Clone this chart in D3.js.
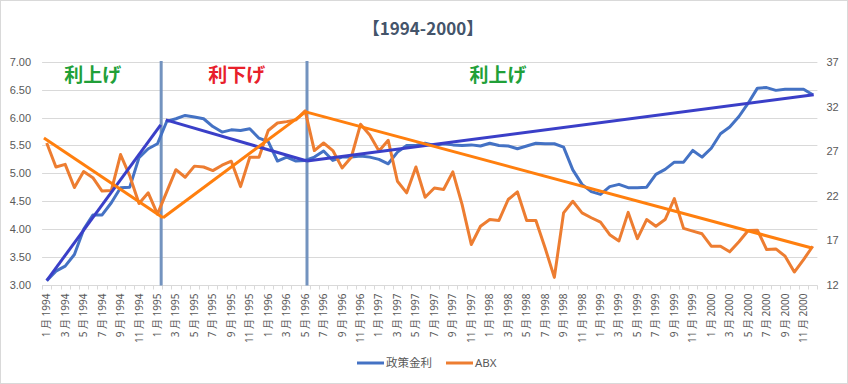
<!DOCTYPE html>
<meta charset="utf-8">
<style>
body { margin: 0; background: #fff; }
svg { font-family: "Noto Sans", "Noto Sans CJK JP", sans-serif; }
.grid line { stroke: #d9d9d9; stroke-width: 1px; }
.axis text { fill: #595959; font-size: 11px; }
.xlab { fill: #595959; font-size: 10px; }
.series { fill: none; stroke-width: 3px; stroke-linejoin: round; }
.trend { fill: none; stroke-width: 3px; }
.cjk { font-family: "Noto Sans CJK JP", sans-serif; }
</style>
<body>
<script src="https://d3js.org/d3.v7.min.js"></script>
<script>

// chart values
var years = [1994, 1995, 1996, 1997, 1998, 1999, 2000];

var policyRate = [
  3.07, 3.24, 3.33, 3.54, 3.99, 4.25, 4.25, 4.47, 4.74, 4.75, 5.28, 5.44,
  5.53, 5.93, 5.98, 6.04, 6.01, 5.98, 5.84, 5.74, 5.78, 5.77, 5.80, 5.63,
  5.57, 5.22, 5.29, 5.22, 5.23, 5.29, 5.40, 5.23, 5.29, 5.29, 5.31, 5.29,
  5.25, 5.17, 5.38, 5.50, 5.50, 5.54, 5.50, 5.53, 5.51, 5.50, 5.51, 5.49,
  5.54, 5.50, 5.49, 5.44, 5.49, 5.54, 5.53, 5.53, 5.47, 5.06, 4.80, 4.67,
  4.62, 4.76, 4.80, 4.74, 4.74, 4.75, 4.98, 5.07, 5.20, 5.20, 5.41, 5.29,
  5.45, 5.71, 5.83, 6.02, 6.26, 6.53, 6.54, 6.49, 6.51, 6.51, 6.51, 6.41
];

var abx = [
  27.9, 25.2, 25.5, 22.9, 24.7, 24.0, 22.5, 22.55, 26.6, 24.2, 21.1, 22.3,
  19.9, 22.4, 24.9, 24.05, 25.3, 25.2, 24.8, 25.4, 25.85, 23.0, 26.3, 26.3,
  29.3, 30.15, 30.3, 30.5, 31.5, 27.05, 27.9, 27.05, 25.1, 26.3, 30.0, 28.8,
  27.0, 28.2, 23.6, 22.3, 25.2, 21.8, 22.85, 22.67, 24.65, 21.0, 16.5, 18.55,
  19.3, 19.2, 21.55, 22.4, 19.2, 19.2, 16.1, 12.8, 20.05, 21.35, 20.05, 19.5,
  19.0, 17.6, 16.9, 20.1, 17.15, 19.3, 18.55, 19.3, 21.65, 18.3, 18.0, 17.7,
  16.3, 16.3, 15.67, 16.8, 18.06, 18.1, 15.93, 16.0, 15.18, 13.4, 14.8, 16.3
];

// hand drawn trend lines, [category index, value]
var policyTrend = [
  [[0, 3.07], [12.35, 5.87]],
  [[12.9, 5.96], [28.2, 5.22]],
  [[28.2, 5.22], [83.1, 6.41]]
];
var abxTrend = [
  [[-0.3, 28.47], [12.6, 19.5]],
  [[12.6, 19.5], [28.06, 31.4]],
  [[28.06, 31.4], [82.9, 16.1]]
];
var phaseLines = [12.4, 28.2];
var phaseLabels = [
  {text: "利上げ", at: 5.0, color: "#21a038"},
  {text: "利下げ", at: 20.6, color: "#e8202a"},
  {text: "利上げ", at: 48.9, color: "#21a038"}
];

var leftTicks = [3, 3.5, 4, 4.5, 5, 5.5, 6, 6.5, 7];
var rightTicks = [12, 17, 22, 27, 32, 37];

var categories = [];
years.forEach(function(y) {
  for (var m = 1; m <= 12; m++) categories.push(m + " 月 " + y);
});

var width = 848, height = 384;
var plot = {left: 42.1, right: 817.4, top: 62, bottom: 284.5};

var svg = d3.select("body").append("svg")
    .attr("width", width)
    .attr("height", height);

svg.append("rect")
    .attr("x", 0.5).attr("y", 0.5)
    .attr("width", width - 1).attr("height", height - 1)
    .attr("fill", "#fff").attr("stroke", "#d9d9d9");

var xBand = d3.scaleBand()
    .domain(d3.range(categories.length))
    .range([plot.left, plot.right]);
var bw = xBand.bandwidth();
// index -> centre of category (allows fractional index)
var x = d3.scaleLinear()
    .domain([0, categories.length - 1])
    .range([plot.left + bw / 2, plot.right - bw / 2]);

var y0 = d3.scaleLinear().domain([3, 7]).range([plot.bottom, plot.top]);
var y1 = d3.scaleLinear().domain([12, 37]).range([plot.bottom, plot.top]);

// gridlines
svg.append("g").attr("class", "grid")
  .selectAll("line").data(leftTicks).enter().append("line")
    .attr("x1", plot.left).attr("x2", plot.right)
    .attr("y1", function(d) { return Math.round(y0(d)) + 0.5; })
    .attr("y2", function(d) { return Math.round(y0(d)) + 0.5; });

// left axis
var yAxisL = svg.append("g").attr("class", "axis")
    .attr("transform", "translate(" + (plot.left - 8) + ",0)")
    .call(d3.axisLeft(y0).tickValues(leftTicks).tickFormat(d3.format(".2f")).tickSize(0));
yAxisL.select(".domain").remove();

// right axis
var yAxisR = svg.append("g").attr("class", "axis")
    .attr("transform", "translate(" + (plot.right + 6) + ",0)")
    .call(d3.axisRight(y1).tickValues(rightTicks).tickSize(0));
yAxisR.select(".domain").remove();

// x axis: ticks at every category boundary, label every 2nd month
var xg = svg.append("g")
    .attr("transform", "translate(0," + (Math.round(plot.bottom) + 0.5) + ")");
xg.append("line")
    .attr("x1", plot.left).attr("x2", plot.right)
    .attr("stroke", "#d9d9d9");
xg.selectAll(".tk").data(d3.range(categories.length + 1)).enter().append("line")
    .attr("class", "tk")
    .attr("x1", function(i) { return Math.round(plot.left + i * bw) + 0.5; })
    .attr("x2", function(i) { return Math.round(plot.left + i * bw) + 0.5; })
    .attr("y1", 0).attr("y2", 4)
    .attr("stroke", "#d9d9d9");
xg.selectAll(".xlab").data(categories.filter(function(d, i) { return i % 2 == 0; }))
  .enter().append("text")
    .attr("class", "xlab")
    .attr("text-anchor", "end")
    .attr("dy", "0.35em")
    .style("white-space", "pre")
    .attr("transform", function(d, i) {
      return "translate(" + x(i * 2) + ",8)rotate(-90)";
    })
    .text(function(d) { return d; });

// phase separators
svg.selectAll(".phase").data(phaseLines).enter().append("line")
    .attr("x1", function(d) { return x(d); })
    .attr("x2", function(d) { return x(d); })
    .attr("y1", plot.top - 1).attr("y2", plot.bottom + 1)
    .attr("stroke", "#7393bf").attr("stroke-width", 3);

// data lines
var line0 = d3.line().x(function(d, i) { return x(i); }).y(function(d) { return y0(d); });
var line1 = d3.line().x(function(d, i) { return x(i); }).y(function(d) { return y1(d); });

svg.append("path").datum(policyRate)
    .attr("class", "series").attr("stroke", "#4472c4").attr("d", line0);
svg.append("path").datum(abx)
    .attr("class", "series").attr("stroke", "#ed7d31").attr("d", line1);

// trend lines
var tl0 = d3.line().x(function(d) { return x(d[0]); }).y(function(d) { return y0(d[1]); });
var tl1 = d3.line().x(function(d) { return x(d[0]); }).y(function(d) { return y1(d[1]); });
svg.selectAll(".t0").data(policyTrend).enter().append("path")
    .attr("class", "trend").attr("stroke", "#3a3fc8").attr("d", tl0);
svg.selectAll(".t1").data(abxTrend).enter().append("path")
    .attr("class", "trend").attr("stroke", "#ff7f0e").attr("d", tl1);

// phase labels
svg.selectAll(".plab").data(phaseLabels).enter().append("text")
    .attr("class", "cjk")
    .attr("x", function(d) { return x(d.at); })
    .attr("y", y0(6.76))
    .attr("dy", "0.35em")
    .attr("text-anchor", "middle")
    .attr("font-size", "19px")
    .attr("font-weight", "bold")
    .attr("fill", function(d) { return d.color; })
    .text(function(d) { return d.text; });

// title
svg.append("text")
    .attr("class", "cjk")
    .attr("x", 423).attr("y", 29)
    .attr("dy", "0.35em")
    .attr("text-anchor", "middle")
    .attr("font-size", "17px")
    .attr("font-weight", "bold")
    .attr("fill", "#44546a")
    .text("【1994-2000】");

// legend
var legendData = [
  {name: "政策金利", color: "#4472c4", x: 357},
  {name: "ABX", color: "#ed7d31", x: 446}
];
var lg = svg.selectAll(".legend").data(legendData).enter().append("g")
    .attr("transform", function(d) { return "translate(" + d.x + ",363)"; });
lg.append("line")
    .attr("x1", 0).attr("x2", 27)
    .attr("stroke", function(d) { return d.color; })
    .attr("stroke-width", 3);
lg.append("text")
    .attr("x", 29).attr("dy", "0.35em")
    .attr("font-size", "11.5px")
    .attr("fill", "#595959")
    .text(function(d) { return d.name; });

</script>
</body>
